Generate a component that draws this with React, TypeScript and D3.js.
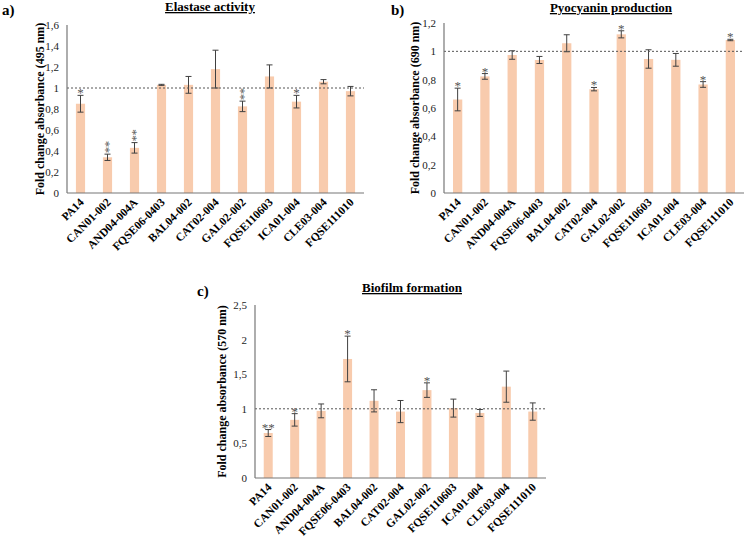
import React from "react";
import * as d3 from "d3";

const strains = [
  "PA14", "CAN01-002", "AND04-004A", "FQSE06-0403", "BAL04-002", "CAT02-004",
  "GAL02-002", "FQSE110603", "ICA01-004", "CLE03-004", "FQSE111010",
];

// a) elastase
const elastaseMean = [0.85, 0.34, 0.43, 1.03, 1.03, 1.18, 0.825, 1.11, 0.87, 1.06, 0.97];
const elastaseErr = [0.08, 0.03, 0.05, 0.005, 0.08, 0.18, 0.05, 0.11, 0.06, 0.02, 0.045];
const elastaseSig = ["*", "**", "**", "", "", "", "**", "", "*", "", ""];
const elastaseTicks = ["0", "0,2", "0,4", "0,6", "0,8", "1", "1,2", "1,4", "1,6"];

// b) pyocyanin
const pyoMean = [0.66, 0.823, 0.974, 0.939, 1.057, 0.733, 1.12, 0.946, 0.94, 0.766, 1.08];
const pyoErr = [0.08, 0.02, 0.03, 0.025, 0.06, 0.012, 0.025, 0.065, 0.045, 0.02, 0.005];
const pyoSig = ["*", "*", "", "", "", "*", "*", "", "", "*", "*"];
const pyoTicks = ["0", "0,2", "0,4", "0,6", "0,8", "1", "1,2"];

// c) biofilm
const bioMean = [0.65, 0.84, 0.97, 1.72, 1.115, 0.96, 1.27, 1.01, 0.94, 1.32, 0.96];
const bioErr = [0.05, 0.09, 0.1, 0.33, 0.16, 0.16, 0.105, 0.13, 0.05, 0.225, 0.125];
const bioSig = ["**", "*", "", "*", "", "", "*", "", "", "", ""];
const bioTicks = ["0", "0,5", "1", "1,5", "2", "2,5"];

const FONT = "'Liberation Serif', 'Times New Roman', serif";
const BAR = "#f8cbad";
const ERR = "#404040";

type PanelProps = {
  letter: string; title: string; ylabel: string;
  mean: number[]; err: number[]; sig: string[]; ticks: string[];
  x0: number; x1: number; yTop: number; yBot: number; max: number;
  letterPos: [number, number]; titlePos: [number, number]; ylabelX: number;
  stackStars: boolean;
};

const Panel = (p: PanelProps) => {
  const x = d3.scaleBand().domain(strains).range([p.x0, p.x1]).paddingInner(0.66).paddingOuter(0.33);
  const y = d3.scaleLinear().domain([0, p.max]).range([p.yBot, p.yTop]);
  const bw = x.bandwidth();
  const tickVals = p.ticks.map((t) => parseFloat(t.replace(",", ".")));
  return (
    <g>
      <text x={p.letterPos[0]} y={p.letterPos[1]} fontFamily={FONT} fontWeight="bold" fontSize={15}>{p.letter}</text>
      <text x={p.titlePos[0]} y={p.titlePos[1]} fontFamily={FONT} fontWeight="bold" fontSize={13}
        textAnchor="middle" textDecoration="underline">{p.title}</text>
      <text transform={`translate(${p.ylabelX},${(p.yTop + p.yBot) / 2}) rotate(-90)`} fontFamily={FONT}
        fontWeight="bold" fontSize={12} textAnchor="middle">{p.ylabel}</text>
      {tickVals.map((v, i) => (
        <text key={i} x={p.x0 - 8} y={y(v) + 4} fontFamily={FONT} fontSize={11} textAnchor="end" fill="#222">{p.ticks[i]}</text>
      ))}
      {strains.map((s, i) => {
        const cx = x(s)! + bw / 2;
        const top = y(p.mean[i] + p.err[i]);
        const bot = y(p.mean[i] - p.err[i]);
        const sg = p.sig[i];
        return (
          <g key={s}>
            <rect x={x(s)} y={y(p.mean[i])} width={bw} height={p.yBot - y(p.mean[i])} fill={BAR} />
            <line x1={cx} x2={cx} y1={top} y2={bot} stroke={ERR} strokeWidth={1} />
            <line x1={cx - 3} x2={cx + 3} y1={top} y2={top} stroke={ERR} strokeWidth={1} />
            <line x1={cx - 3} x2={cx + 3} y1={bot} y2={bot} stroke={ERR} strokeWidth={1} />
            {sg && (p.stackStars && sg.length === 2 ? (
              // stacked vertically: rotate the "**" string
              <text transform={`translate(${cx + 5.5},${top - 1}) rotate(-90)`} fontFamily={FONT}
                fontSize={13} textAnchor="start" fill="#555" letterSpacing={-0.5}>{sg}</text>
            ) : (
              <text x={cx} y={top + 2} fontFamily={FONT} fontSize={13} textAnchor="middle" fill="#555">{sg}</text>
            ))}
            <text transform={`translate(${cx + 4},${p.yBot + 10}) rotate(-45)`} fontFamily={FONT}
              fontWeight="bold" fontSize={11.5} textAnchor="end">{s}</text>
          </g>
        );
      })}
      <line x1={p.x0} x2={p.x1} y1={y(1)} y2={y(1)} stroke="#555" strokeDasharray="2,2" strokeWidth={1} />
      <line x1={p.x0} x2={p.x0} y1={p.yTop} y2={p.yBot} stroke="#777" strokeWidth={1.2} />
      <line x1={p.x0} x2={p.x1} y1={p.yBot} y2={p.yBot} stroke="#777" strokeWidth={1.2} />
    </g>
  );
};

export default function App() {
  return (
    <svg width={750} height={547} style={{ position: "absolute", left: 0, top: 0, background: "#fff" }}>
      <rect width={750} height={547} fill="#fff" />
      <Panel letter="a)" title="Elastase activity" ylabel="Fold change absorbance (495 nm)"
        mean={elastaseMean} err={elastaseErr} sig={elastaseSig} ticks={elastaseTicks}
        x0={67} x1={364} yTop={25} yBot={193} max={1.6}
        letterPos={[2, 15]} titlePos={[210, 11]} ylabelX={44} stackStars={true} />
      <Panel letter="b)" title="Pyocyanin production" ylabel="Fold change absorbance (690 nm)"
        mean={pyoMean} err={pyoErr} sig={pyoSig} ticks={pyoTicks}
        x0={444} x1={744} yTop={23} yBot={193} max={1.2}
        letterPos={[391, 15]} titlePos={[611, 12]} ylabelX={419} stackStars={true} />
      <Panel letter="c)" title="Biofilm formation" ylabel="Fold change absorbance (570 nm)"
        mean={bioMean} err={bioErr} sig={bioSig} ticks={bioTicks}
        x0={255} x1={546} yTop={305} yBot={478} max={2.5}
        letterPos={[197, 296]} titlePos={[412, 292]} ylabelX={226} stackStars={false} />
    </svg>
  );
}
